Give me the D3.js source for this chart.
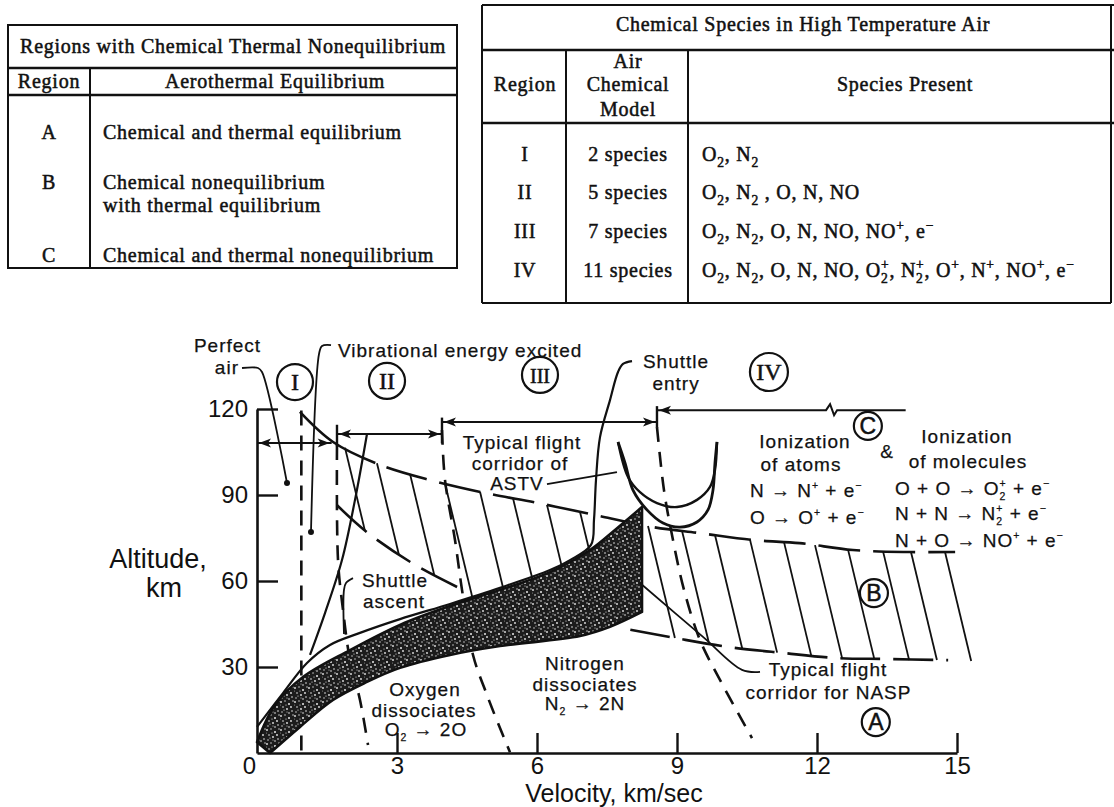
<!DOCTYPE html>
<html><head><meta charset="utf-8">
<script src="https://cdn.jsdelivr.net/npm/d3@7"></script>
<style>body{margin:0;background:#fff}svg{display:block}</style>
</head><body>
<svg id="c" width="1114" height="807"></svg>
<script>
// ---------------- DATA ----------------
// Table 1
const regionsABC = ["A", "B", "C"];
const aeroDesc = [["Chemical and thermal equilibrium"], ["Chemical nonequilibrium", "with thermal equilibrium"], ["Chemical and thermal nonequilibrium"]];
// Table 2
const speciesRegions = ["I", "II", "III", "IV"];
const speciesModels = ["2 species", "5 species", "7 species", "11 species"];
const speciesPresent = ["O_2, N_2", "O_2, N_2 , O, N, NO", "O_2, N_2, O, N, NO, NO^+, e^\u2212", "O_2, N_2, O, N, NO, O_2^+, N_2^+, O^+, N^+, NO^+, e^\u2212"];
// Axes
const xTickVals = [0, 3, 6, 9, 12, 15];
const yTickVals = [30, 60, 90, 120];
// Curves [velocity km/s, altitude km]
const bandUpper = [[0,3.8],[0.386,16.7],[0.986,26.5],[1.993,35.9],[3.064,44.7],[4.136,51.3],[5.207,56.9],[6.279,63.1],[7.136,70.8],[7.671,77.8],[8.25,85.8]];
const bandLower = [[8.25,49.2],[7.564,44.0],[6.921,40.8],[5.207,37.3],[4.136,34.2],[3.064,29.7],[2.357,24.8],[1.629,18.5],[0.921,9.1],[0.279,0]];
const shuttleEntry = [[8.036,136.7],[7.843,135.7],[7.736,132.9],[7.564,123.1],[7.35,110.2],[7.264,95.2],[7.221,81.3],[7.157,72.6],[6.707,67.3],[6.279,63.8],[5.207,57.6],[4.136,52.0],[3.064,46.7],[2.207,41.9],[1.564,37.7],[1.071,31.4],[0.557,20.9],[0,9.1]];
const steepLine = [[1.136,34.2],[1.457,48.8],[1.821,67.3],[2.1,88.3],[2.357,111.3]];
const upperB = [[0.92,119],[1.63,108.5],[2.64,100.5],[3.71,95.2],[4.89,90.7],[6.02,87.2],[7.14,83.4],[8.49,78.8],[9.49,76.7],[10.63,74.3],[11.63,73.2],[12.77,70.8],[13.99,70.1],[14.96,70.1]];
const lowerLeftB = [[1.71,86.5],[2.38,76.7],[3.39,65.6],[4.29,57.9]];
const lowerRightB = [[8.0,43],[8.96,40.1],[10.09,37.0],[11.27,34.9],[12.45,33.1],[13.46,32.8],[14.81,32.4]];
const hatchStarts = [1.886,2.571,3.279,4.029,4.779,5.486,6.214,6.921,8.379,9.107,9.814,10.564,11.293,11.957,12.664,13.414,14.014,14.743];
const boundaryI = [[0.95,119.5],[0.95,0]];
const boundaryO2 = [[1.714,107.4],[1.736,67.3],[1.843,49.9],[1.993,32.4],[2.207,18.5],[2.379,2.8]];
const boundaryO2full = [[3.964,112.7],[4.029,95.2],[4.243,74.3],[4.393,56.9],[4.629,34.2],[4.929,20.2],[5.207,8.7],[5.421,0.3]];
const boundaryN2 = [[8.571,113.7],[8.721,91.7],[8.914,74.3],[9.15,56.9],[9.493,39.4],[9.921,25.5],[10.607,5.2]];
const astvOuter = [[7.736,108.5],[7.886,101.2],[8.057,91.7],[8.357,84.8],[8.7,80.2],[9.064,78.8],[9.429,80.6],[9.664,84.8],[9.771,91.7],[9.814,101.2],[9.857,108.5]];
const astvInner = [[7.736,108.5],[7.95,96.3],[8.207,91.0],[8.571,87.2],[9.0,85.8],[9.429,88.3],[9.707,92.8],[9.814,98.7],[9.857,108.5]];
// leaders
const leaderPerfect = [[-0.321,134.3],[0.021,134.3],[0.107,132.9],[0.643,94.2]];
const leaderVib = [[1.586,142.3],[1.393,142.0],[1.329,139.2],[1.157,77.1]];
const leaderAscent = [[2.057,61.0],[1.907,59.3],[1.864,56.9],[1.864,41.5]];
const leaderASTV = [[6.214,93.8],[7.714,98.0]];
const leaderNASP = [[8.207,59.3],[9.557,40.5],[10.393,29.0],[10.779,28.3]];
const leaderDots = [[0.643,94.2],[1.157,77.1]];
// region brackets
const brackets = [
  {v0:0, v1:1.6, h:108.1, la:true, ra:true},
  {v0:1.714, v1:3.964, h:111.3, la:true, ra:true},
  {v0:3.964, v1:8.571, h:115.5, la:true, ra:true},
  {v0:8.571, v1:13.9, h:119.6, la:true, ra:false, brk:12.28}
];
const bracketBars = [{v:1.714,h0:107,h1:114.5},{v:3.964,h0:108,h1:117},{v:8.571,h0:113.5,h1:121}];
const circled = [
  {t:"I",v:0.814,h:129.4,r:18,serif:true},{t:"II",v:2.786,h:129.8,r:18,serif:true},
  {t:"III",v:6.064,h:131.9,r:18,serif:true},{t:"IV",v:10.97,h:132.9,r:19,serif:true},
  {t:"C",v:13.09,h:114.1,r:14},{t:"B",v:13.22,h:55.8,r:14},{t:"A",v:13.26,h:10.8,r:14}
];
const labels = [
  {t:"Perfect",v:-0.632,h:139.9,a:"middle"},
  {t:"air",v:-0.386,h:132.2,a:"end"},
  {t:"Vibrational energy excited",v:1.736,h:138.1,a:"start"},
  {t:"Shuttle",v:8.979,h:134.3,a:"middle"},
  {t:"entry",v:8.979,h:126.6,a:"middle"},
  {t:"Typical flight",v:5.679,h:106.0,a:"middle"},
  {t:"corridor of",v:5.636,h:98.7,a:"middle"},
  {t:"ASTV",v:5.571,h:91.7,a:"middle"},
  {t:"Ionization",v:11.743,h:106.4,a:"middle"},
  {t:"of atoms",v:11.657,h:98.4,a:"middle"},
  {t:"N \u2192 N^+ + e^\u2212",v:10.564,h:89.3,a:"start"},
  {t:"O \u2192 O^+ + e^\u2212",v:10.564,h:79.9,a:"start"},
  {t:"&",v:13.5,h:102.9,a:"middle"},
  {t:"Ionization",v:15.214,h:108.1,a:"middle"},
  {t:"of molecules",v:15.236,h:99.4,a:"middle"},
  {t:"O + O \u2192 O_2^+ + e^\u2212",v:13.671,h:90.0,a:"start"},
  {t:"N + N \u2192 N_2^+ + e^\u2212",v:13.671,h:81.3,a:"start"},
  {t:"N + O \u2192 NO^+ + e^\u2212",v:13.671,h:71.9,a:"start"},
  {t:"Shuttle",v:2.957,h:57.9,a:"middle"},
  {t:"ascent",v:2.936,h:50.6,a:"middle"},
  {t:"Oxygen",v:3.6,h:19.9,a:"middle"},
  {t:"dissociates",v:3.579,h:12.6,a:"middle"},
  {t:"O_2 \u2192 2O",v:3.621,h:5.9,a:"middle"},
  {t:"Nitrogen",v:7.029,h:29.0,a:"middle"},
  {t:"dissociates",v:7.029,h:21.6,a:"middle"},
  {t:"N_2 \u2192 2N",v:7.029,h:15.0,a:"middle"},
  {t:"Typical flight",v:12.236,h:26.9,a:"middle"},
  {t:"corridor for NASP",v:12.246,h:18.8,a:"middle"}
];

// ---------------- DRAW ----------------
const SERIF = "'Liberation Serif','Times New Roman',serif";
const SANS = "'Liberation Sans',Arial,Helvetica,sans-serif";
const INK = "#111";
const svg = d3.select("#c");

function rich(t, s, fs, ls, dw, subF, supF, smallF) {
  const re = /_([0-9])\^([+\u2212])|_([0-9])|\^([+\u2212])|([^_^]+)/g;
  let off = 0, m;
  const sub = fs * subF, sup = -fs * supF, small = fs * smallF;
  const add = (txt, target, size, dx) => {
    const ts = t.append("tspan").text(txt).attr("dy", target - off);
    if (size) ts.attr("font-size", size);
    if (dx) ts.attr("dx", dx);
    off = target;
  };
  while ((m = re.exec(s)) !== null) {
    if (m[1]) { add(m[1], sub, small); add(m[2], sup, small, -(small * dw + ls)); }
    else if (m[3]) add(m[3], sub, small);
    else if (m[4]) add(m[4], sup, small);
    else add(m[5], 0);
  }
}

// ----- Tables -----
const tb = svg.append("g").attr("stroke", INK).attr("stroke-width", 2).attr("fill", "none");
// left table
tb.append("rect").attr("x", 8).attr("y", 25).attr("width", 449).attr("height", 243);
tb.append("line").attr("x1", 8).attr("x2", 457).attr("y1", 68).attr("y2", 68).attr("stroke-width", 2.5);
tb.append("line").attr("x1", 8).attr("x2", 457).attr("y1", 95).attr("y2", 95).attr("stroke-width", 2.5);
tb.append("line").attr("x1", 90).attr("x2", 90).attr("y1", 68).attr("y2", 268);
// right table
tb.append("line").attr("x1", 482).attr("x2", 1114).attr("y1", 5).attr("y2", 5);
tb.append("line").attr("x1", 482).attr("x2", 482).attr("y1", 5).attr("y2", 303);
tb.append("line").attr("x1", 1111).attr("x2", 1111).attr("y1", 5).attr("y2", 303);
tb.append("line").attr("x1", 482).attr("x2", 1111).attr("y1", 303).attr("y2", 303);
tb.append("line").attr("x1", 482).attr("x2", 1114).attr("y1", 50).attr("y2", 50).attr("stroke-width", 2.5);
tb.append("line").attr("x1", 482).attr("x2", 1114).attr("y1", 123).attr("y2", 123).attr("stroke-width", 2.5);
tb.append("line").attr("x1", 566).attr("x2", 566).attr("y1", 50).attr("y2", 303);
tb.append("line").attr("x1", 688).attr("x2", 688).attr("y1", 50).attr("y2", 303);

const TFS = 20, TLS = 0.75;
function ttext(x, yb, s, anchor) {
  const t = svg.append("text").attr("x", x).attr("y", yb).attr("text-anchor", anchor || "start")
    .attr("font-family", SERIF).attr("font-size", TFS).attr("letter-spacing", TLS)
    .attr("fill", INK).attr("stroke", INK).attr("stroke-width", 0.5);
  rich(t, s, TFS, TLS, 0.5, 0.3, 0.4, 0.68);
  return t;
}
ttext(233, 53, "Regions with Chemical Thermal Nonequilibrium", "middle");
ttext(49, 88, "Region", "middle");
ttext(275, 88, "Aerothermal Equilibrium", "middle");
const rowBase = [139, 189, 262];
regionsABC.forEach((r, i) => {
  ttext(49, rowBase[i], r, "middle");
  aeroDesc[i].forEach((line, j) => ttext(103, rowBase[i] + j * 23, line, "start"));
});
ttext(803, 31, "Chemical Species in High Temperature Air", "middle");
ttext(525, 91, "Region", "middle");
ttext(628, 68, "Air", "middle");
ttext(628, 91, "Chemical", "middle");
ttext(628, 116, "Model", "middle");
ttext(905, 91, "Species Present", "middle");
const row2Base = [161, 199, 238, 277];
speciesRegions.forEach((r, i) => {
  ttext(525, row2Base[i], r, "middle");
  ttext(628, row2Base[i], speciesModels[i], "middle");
  ttext(702, row2Base[i], speciesPresent[i], "start");
});

// ----- Chart -----
const x = d3.scaleLinear().domain([0, 15]).range([257, 957]);
const y = d3.scaleLinear().domain([0, 120]).range([753, 409]);
const lineCat = d3.line().x(d => x(d[0])).y(d => y(d[1])).curve(d3.curveCatmullRom.alpha(0.5));
const g = svg.append("g");

// stipple pattern for band
const defs = svg.append("defs");
const pat = defs.append("pattern").attr("id", "stip").attr("width", 14).attr("height", 14).attr("patternUnits", "userSpaceOnUse");
pat.append("rect").attr("width", 14).attr("height", 14).attr("fill", "#1c1c1c");
[[1,2,0.9],[5,1,0.7],[9,4,1],[3,7,0.8],[7,9,0.9],[12,11,0.8],[2,12,0.7],[11,7,0.9],[6,5,0.6],[13,1,0.7],[4,10,0.6],[9,13,0.8],[0,5,0.6],[7,12,0.5]]
  .forEach(d => pat.append("circle").attr("cx", d[0]).attr("cy", d[1]).attr("r", d[2]).attr("fill", "#e8e8e8"));

// hatch lines
function interp(arr, v) {
  if (v < arr[0][0] || v > arr[arr.length - 1][0]) return null;
  for (let i = 1; i < arr.length; i++) {
    if (v <= arr[i][0]) {
      const t = (v - arr[i - 1][0]) / (arr[i][0] - arr[i - 1][0]);
      return arr[i - 1][1] + t * (arr[i][1] - arr[i - 1][1]);
    }
  }
  return arr[arr.length - 1][1];
}
const lowerRightExt = lowerRightB.concat([[15.6, lowerRightB[lowerRightB.length - 1][1]]]);
function floorH(v) {
  const c = [];
  const a = interp(lowerLeftB, v); if (a !== null) c.push(a);
  if (v <= 8.25) { const b = interp(bandUpper, v); if (b !== null) c.push(b); }
  if (v > 8.25) { const r = interp(lowerRightExt, v); if (r !== null) c.push(r); }
  return c.length ? Math.max(...c) : 0;
}
const HSLOPE = 0.24;
const hatchSegs = hatchStarts.map(v0 => {
  const h0 = interp(upperB, v0);
  const px0 = x(v0), py0 = y(h0);
  let px = px0, py = py0;
  for (let k = 0; k < 400; k++) {
    py += 1; px += HSLOPE;
    if (py >= y(floorH(x.invert(px)))) break;
  }
  return [px0, py0, px, py];
});
g.selectAll("line.hatch").data(hatchSegs).join("line").attr("class", "hatch")
  .attr("x1", d => d[0]).attr("y1", d => d[1]).attr("x2", d => d[2]).attr("y2", d => d[3])
  .attr("stroke", INK).attr("stroke-width", 1.8);

// boundaries of nonequilibrium region B
let longDash = "92 12"; for (let i = 0; i < 40; i++) longDash += " 42 13";
g.append("path").attr("d", lineCat(upperB)).attr("fill", "none").attr("stroke", INK).attr("stroke-width", 2.6).attr("stroke-dasharray", longDash);
g.append("path").attr("d", lineCat(lowerLeftB)).attr("fill", "none").attr("stroke", INK).attr("stroke-width", 2.6).attr("stroke-dasharray", "40 13");
g.append("path").attr("d", lineCat(lowerRightB)).attr("fill", "none").attr("stroke", INK).attr("stroke-width", 2.6).attr("stroke-dasharray", "40 13");

// dissociation / region dashed boundaries
[boundaryI, boundaryO2, boundaryO2full, boundaryN2].forEach(b => {
  g.append("path").attr("d", lineCat(b)).attr("fill", "none").attr("stroke", INK).attr("stroke-width", 2.6).attr("stroke-dasharray", "15 10");
});

// NASP corridor band
const bandPath = lineCat(bandUpper) + lineCat(bandLower).replace(/^M/, "L") + "Z";
g.append("path").attr("d", bandPath).attr("fill", "url(#stip)").attr("stroke", INK).attr("stroke-width", 2.6).attr("stroke-linejoin", "round");

// shuttle entry / ascent
g.append("path").attr("d", lineCat(shuttleEntry)).attr("fill", "none").attr("stroke", INK).attr("stroke-width", 2.2);
g.append("path").attr("d", lineCat(steepLine)).attr("fill", "none").attr("stroke", INK).attr("stroke-width", 2.2);

// ASTV corridor crescent
g.append("path").attr("d", lineCat(astvOuter)).attr("fill", "none").attr("stroke", INK).attr("stroke-width", 2.8);
g.append("path").attr("d", lineCat(astvInner)).attr("fill", "none").attr("stroke", INK).attr("stroke-width", 2.4);

// leaders
[leaderPerfect, leaderVib, leaderAscent, leaderASTV, leaderNASP].forEach(l => {
  g.append("path").attr("d", lineCat(l)).attr("fill", "none").attr("stroke", INK).attr("stroke-width", 1.8);
});
g.selectAll("circle.dot").data(leaderDots).join("circle").attr("class", "dot")
  .attr("cx", d => x(d[0])).attr("cy", d => y(d[1])).attr("r", 3).attr("fill", INK);

// brackets
function arrowHead(px, py, dir) {
  return `M${px},${py}L${px - dir * 12},${py - 4.5}L${px - dir * 9},${py}L${px - dir * 12},${py + 4.5}Z`;
}
brackets.forEach(b => {
  const x0 = x(b.v0), x1 = x(b.v1), yy = y(b.h);
  if (b.brk !== undefined) {
    const xb = x(b.brk);
    g.append("path").attr("d", `M${x0},${yy}L${xb - 4},${yy}L${xb},${yy - 6}L${xb + 4},${yy + 5}L${xb + 7},${yy}L${x1},${yy}`)
      .attr("fill", "none").attr("stroke", INK).attr("stroke-width", 2);
  } else {
    g.append("line").attr("x1", x0).attr("x2", x1).attr("y1", yy).attr("y2", yy).attr("stroke", INK).attr("stroke-width", 2);
  }
  if (b.la) g.append("path").attr("d", arrowHead(x0 + 2, yy, -1)).attr("fill", INK);
  if (b.ra) g.append("path").attr("d", arrowHead(x1 - 2, yy, 1)).attr("fill", INK);
});
g.selectAll("line.bar").data(bracketBars).join("line").attr("class", "bar")
  .attr("x1", d => x(d.v)).attr("x2", d => x(d.v)).attr("y1", d => y(d.h0)).attr("y2", d => y(d.h1))
  .attr("stroke", INK).attr("stroke-width", 2.4);

// axes
const xAx = g.append("g").attr("transform", `translate(0,${y(0)})`)
  .call(d3.axisBottom(x).tickValues(xTickVals).tickSizeInner(-20).tickSizeOuter(0).tickPadding(4).tickFormat(d3.format("d")));
const yAx = g.append("g").attr("transform", `translate(${x(0)},0)`)
  .call(d3.axisLeft(y).tickValues(yTickVals).tickSizeInner(-21).tickSizeOuter(0).tickPadding(9).tickFormat(d3.format("d")));
[xAx, yAx].forEach(a => {
  a.attr("font-family", SANS).attr("font-size", 24);
  a.select(".domain").attr("stroke", INK).attr("stroke-width", 2.6);
  a.selectAll(".tick line").attr("stroke", INK).attr("stroke-width", 2.4);
  a.selectAll(".tick text").attr("fill", INK);
});
xAx.selectAll(".tick").filter(d => d === 0).select("line").remove();
xAx.selectAll(".tick").filter(d => d === 0).select("text").attr("x", -8);

// axis titles
svg.append("text").attr("x", 614).attr("y", 802).attr("text-anchor", "middle").attr("font-family", SANS).attr("font-size", 25).attr("fill", INK).text("Velocity, km/sec");
svg.append("text").attr("x", 158).attr("y", 568).attr("text-anchor", "middle").attr("font-family", SANS).attr("font-size", 27).attr("fill", INK).text("Altitude,");
svg.append("text").attr("x", 164).attr("y", 597).attr("text-anchor", "middle").attr("font-family", SANS).attr("font-size", 27).attr("fill", INK).text("km");

// circled region labels
const cg = g.selectAll("g.circ").data(circled).join("g").attr("class", "circ")
  .attr("transform", d => `translate(${x(d.v)},${y(d.h)})`);
cg.append("circle").attr("r", d => d.r).attr("fill", "#fff").attr("stroke", INK).attr("stroke-width", 2.2);
cg.append("text").attr("text-anchor", "middle").attr("dy", 8)
  .attr("font-family", d => d.serif ? SERIF : SANS).attr("font-size", d => d.serif ? (d.t.length > 2 ? 20 : 24) : 23)
  .attr("fill", INK).attr("stroke", INK).attr("stroke-width", 0.5)
  .text(d => d.t);

// annotations
const AFS = 19, ALS = 1;
labels.forEach(l => {
  const t = g.append("text").attr("x", x(l.v)).attr("y", y(l.h)).attr("text-anchor", l.a)
    .attr("font-family", SANS).attr("font-size", AFS).attr("letter-spacing", ALS).attr("fill", INK)
    .attr("stroke", INK).attr("stroke-width", 0.25);
  rich(t, l.t, AFS, ALS, 0.556, 0.25, 0.4, 0.55);
});
</script>
</body></html>
